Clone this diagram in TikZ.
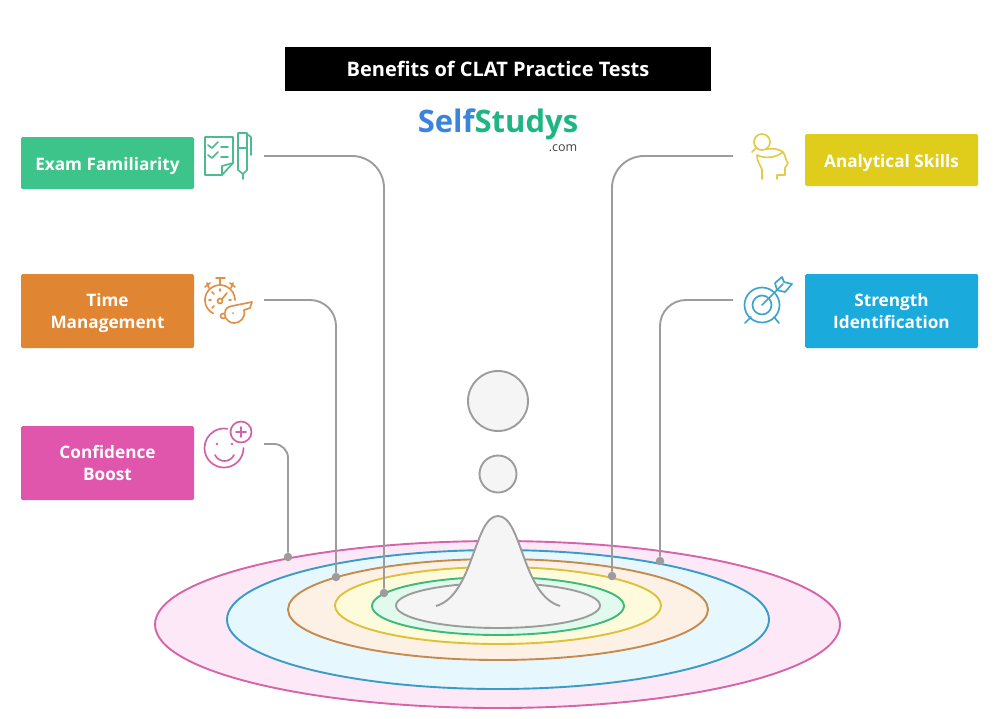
\documentclass[tikz,border=0pt]{standalone}
\usepackage{fontspec}
\setmainfont{Open Sans}

\newcommand{\lowertext}[1]{\rule{0pt}{#1}}
\newcommand{\lastdepth}{\rule[-5pt]{0pt}{5pt}}

\definecolor{examgreen}{HTML}{3DC48A}
\definecolor{timeorange}{HTML}{E08532}
\definecolor{boostpink}{HTML}{DF56AC}
\definecolor{skillyellow}{HTML}{E0CC1A}
\definecolor{strengthblue}{HTML}{1BAADC}
\definecolor{linegray}{HTML}{9C9C9C}
\definecolor{logoblue}{HTML}{3A84DC}
\definecolor{logogreen}{HTML}{1FB583}
\definecolor{pinkring}{HTML}{D564A8}
\definecolor{bluering}{HTML}{3A9CC6}
\definecolor{orangering}{HTML}{C58B4E}
\definecolor{yellowring}{HTML}{DDC13A}
\definecolor{greenring}{HTML}{3FB97A}
\definecolor{pinkfill}{HTML}{FCE8F6}
\definecolor{bluefill}{HTML}{E6F8FD}
\definecolor{orangefill}{HTML}{FDF0E4}
\definecolor{yellowfill}{HTML}{FEFBDC}
\definecolor{greenfill}{HTML}{E2F9EE}
\definecolor{grayfill}{HTML}{F5F5F5}
\definecolor{whistleorange}{HTML}{DB9349}
\definecolor{iconpink}{HTML}{CF62AE}
\definecolor{iconyellow}{HTML}{E3CB4A}
\definecolor{iconblue}{HTML}{3FA4CC}
\definecolor{icongreen}{HTML}{4DBB90}

\begin{document}
\begin{tikzpicture}[x=1pt,y=-1pt,
    tagbox/.style={rounded corners=1.5pt,minimum width=173pt,inner sep=0pt,align=center,text=white,font=\fontsize{17.2}{22}\selectfont\bfseries},
    link/.style={draw=linegray,line width=1.9pt},
    enddot/.style={circle,fill=linegray,minimum size=8.5pt,inner sep=0pt},
    ring/.style={line width=1.9pt},
    iconline/.style={line width=1.7pt,line cap=round,line join=round}]

    \useasboundingbox (0,0) rectangle (996,718);

    % Title and logo
    \node[fill=black,text=white,minimum width=426pt,minimum height=44pt,inner sep=0pt,font=\fontsize{20}{24}\selectfont\bfseries] (title) at (498,69) {Benefits of CLAT Practice Tests};
    \node[font=\fontsize{31}{34}\selectfont\bfseries,inner sep=0pt] (logo) at (498,124) {\textcolor{logoblue}{Self}\textcolor{logogreen}{Studys}};
    \node[font=\fontsize{12.5}{14}\selectfont,text=black!75,inner sep=0pt] (logocom) at (563,148) {.com};

    % The rings, outer one first
    \draw[ring,draw=pinkring,fill=pinkfill] (497.5,624.5) ellipse [x radius=342.5,y radius=83.5];
    \draw[ring,draw=bluering,fill=bluefill] (498,619.5) ellipse [x radius=271,y radius=69.5];
    \draw[ring,draw=orangering,fill=orangefill] (498,609.5) ellipse [x radius=210,y radius=50.5];
    \draw[ring,draw=yellowring,fill=yellowfill] (498,605.5) ellipse [x radius=163,y radius=38.5];
    \draw[ring,draw=greenring,fill=greenfill] (498,606) ellipse [x radius=126,y radius=29];
    \draw[ring,draw=linegray,fill=grayfill] (498,605.5) ellipse [x radius=102,y radius=22.5];

    % Peak and the two drops
    \fill[grayfill] (436,606) .. controls (474,595) and (474,516) .. (498,516) .. controls (522,516) and (522,595) .. (560,606) -- cycle;
    \draw[ring,draw=linegray] (436,606) .. controls (474,595) and (474,516) .. (498,516) .. controls (522,516) and (522,595) .. (560,606);
    \node[circle,draw=linegray,fill=grayfill,line width=1.9pt,minimum size=60pt,inner sep=0pt] (bigdrop) at (498,401) {};
    \node[circle,draw=linegray,fill=grayfill,line width=1.9pt,minimum size=37pt,inner sep=0pt] (smalldrop) at (498,474) {};

    % Labels
    \node[tagbox,fill=examgreen,minimum height=52pt] (exam) at (107.5,163) {\lowertext{19.5pt}Exam Familiarity};
    \node[tagbox,fill=timeorange,minimum height=74pt] (time) at (107.5,311) {\lowertext{18pt}Time\\Management\lastdepth};
    \node[tagbox,fill=boostpink,minimum height=74pt] (boost) at (107.5,463) {\lowertext{18pt}Confidence\\Boost\lastdepth};
    \node[tagbox,fill=skillyellow,minimum height=52pt] (skills) at (891.5,160) {\lowertext{19.5pt}Analytical Skills};
    \node[tagbox,fill=strengthblue,minimum height=74pt] (strength) at (891.5,311) {\lowertext{18pt}Strength\\Identification\lastdepth};

    % Free ends of the connectors, next to the icons
    \coordinate (examend) at (264,156);
    \coordinate (timeend) at (264,300);
    \coordinate (boostend) at (264,444);
    \coordinate (skillsend) at (733,156);
    \coordinate (strengthend) at (733,300);

    % Dots on the rings
    \node[enddot] (examdot) at (384,593) {};
    \node[enddot] (timedot) at (336,577) {};
    \node[enddot] (boostdot) at (288,557) {};
    \node[enddot] (skillsdot) at (612,576) {};
    \node[enddot] (strengthdot) at (660,561) {};

    % Connectors
    \draw[link,rounded corners=32pt] (examend) -| (examdot);
    \draw[link,rounded corners=26pt] (timeend) -| (timedot);
    \draw[link,rounded corners=14pt] (boostend) -| (boostdot);
    \draw[link,rounded corners=32pt] (skillsend) -| (skillsdot);
    \draw[link,rounded corners=26pt] (strengthend) -| (strengthdot);

    % Checklist and pen
    \draw[iconline,draw=icongreen] (222,175) -- (205,175) -- (205,137) -- (233,137) -- (233,163) -- cycle;
    \draw[iconline,draw=icongreen] (222,175) -- (222,166) -- (233,163);
    \draw[iconline,draw=icongreen] (208,145) -- (212,148) -- (218,142) (221,147) -- (228,147);
    \draw[iconline,draw=icongreen] (208,155) -- (212,158) -- (218,152) (221,157) -- (228,157);
    \draw[iconline,draw=icongreen] (238,133) -- (247,133) -- (247,170) -- (243,174) -- (238,170) -- cycle;
    \draw[iconline,draw=icongreen] (238,148) -- (247,148) (247,134) -- (251,137) -- (251,155) (243,174) -- (243,179);

    % Stopwatch and whistle
    \draw[iconline,draw=whistleorange] (213.2,313.4) arc [start angle=117,end angle=360,radius=15];
    \draw[iconline,draw=whistleorange] (216,278) -- (225,278) (220,278) -- (220,285);
    \draw[iconline,draw=whistleorange] (205,287) -- (210,283) (207,283) -- (209,288);
    \draw[iconline,draw=whistleorange] (230,283) -- (235,287) (233,283) -- (231,288);
    \draw[iconline,draw=whistleorange] (220,289) -- (220,291) (209,300) -- (211,300) (229,300) -- (231,300) (212,292) -- (214,294) (212,308) -- (214,306);
    \draw[iconline,draw=whistleorange] (220,301) circle [radius=2.5];
    \draw[iconline,draw=whistleorange] (222,299) -- (227,293);
    \draw[iconline,draw=whistleorange,fill=white] (225,313) .. controls (225,308) and (228,307) .. (232,306) -- (252,302) -- (250,308) -- (244,310) .. controls (246,318) and (240,323) .. (234,323) .. controls (230,323) and (228,321) .. (226,318);
    \draw[iconline,draw=whistleorange,fill=white] (223,316) circle [radius=2.5];
    \fill[whistleorange] (233,313) circle [radius=1];

    % Smiley with plus
    \draw[iconline,draw=iconpink] (243.5,448) arc [start angle=0,end angle=280,radius=19.5];
    \draw[iconline,draw=iconpink] (241,432) circle [radius=10.5];
    \draw[iconline,draw=iconpink] (236,432) -- (246,432) (241,427) -- (241,437);
    \fill[iconpink] (217,444) circle [radius=1.3] (232,444) circle [radius=1.3];
    \draw[iconline,draw=iconpink] (215,455) .. controls (219,463) and (230,463) .. (234,455);

    % Head with magnifier
    \draw[iconline,draw=iconyellow] (762,142) circle [radius=8];
    \draw[iconline,draw=iconyellow] (756,148) -- (752,152);
    \draw[iconline,draw=iconyellow] (762,179) -- (762,170) .. controls (761,165) and (757,163) .. (757,155) .. controls (765,159) and (776,158) .. (783,152) .. controls (786,156) and (785,160) .. (788,163) -- (785,168) -- (785,175) -- (777,175) -- (777,179);
    \draw[iconline,draw=iconyellow] (767,149) .. controls (773,148) and (779,149) .. (783,152);

    % Target with arrow
    \draw[iconline,draw=iconblue] (762,305) circle [radius=17.5];
    \draw[iconline,draw=iconblue] (762,305) circle [radius=9.5];
    \draw[iconline,draw=iconblue] (745,323) -- (751,317) (779,323) -- (774,317);
    \draw[iconline,draw=iconblue] (762,305) -- (783,284);
    \draw[iconline,draw=iconblue] (775,283) -- (782,277) -- (784,282) -- (792,284) -- (785,292) -- (777,290) -- cycle;

\end{tikzpicture}
\end{document}
